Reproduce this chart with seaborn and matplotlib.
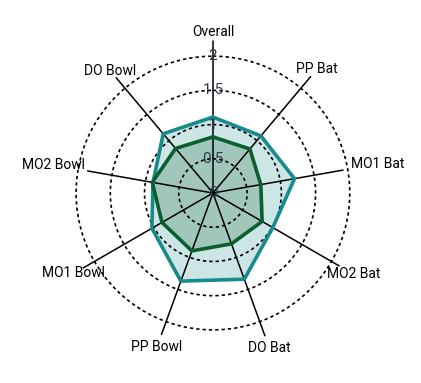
import numpy as np
import pandas as pd
import matplotlib
matplotlib.use("Agg")
import matplotlib.pyplot as plt
import seaborn as sns

categories = ["Overall", "PP Bat", "MO1 Bat", "MO2 Bat", "DO Bat",
              "PP Bowl", "MO1 Bowl", "MO2 Bowl", "DO Bowl"]
teal_values = [1.11, 1.09, 1.21, 1.01, 1.34, 1.37, 1.03, 0.89, 1.13]
green_values = [0.82, 0.84, 0.71, 0.83, 0.79, 0.90, 0.86, 0.90, 0.85]
radial_ticks = [0, 0.5, 1, 1.5, 2]
radial_tick_labels = ["0", "0.5", "1", "1.5", "2"]

sns.set_style("white")
plt.rcParams["font.family"] = ["Roboto", "DejaVu Sans"]

TEAL = "#178a8a"
GREEN = "#0b5e2e"

n = len(categories)
angles = np.linspace(0, 2 * np.pi, n, endpoint=False)

fig = plt.figure(figsize=(4.21, 3.83), dpi=100)
ax = fig.add_axes([0.140, 0.094, 0.7316, 0.804], projection="polar")
ax.set_theta_zero_location("N")
ax.set_theta_direction(-1)
rmax = 2.25
ax.set_ylim(0, rmax)
ax.grid(False)
ax.spines["polar"].set_visible(False)
ax.set_xticks([])
ax.set_yticks([])
ax.patch.set_alpha(0)

# dotted circles
circ_t = np.linspace(0, 2 * np.pi, 400)
for rt in radial_ticks[1:]:
    ax.plot(circ_t, np.full_like(circ_t, rt), color="black", lw=1.2,
            linestyle=(0, (2, 1.8)), zorder=3)

# spokes
spoke_len = [2.22, 2.22, 1.93, 2.13, 2.22, 2.2, 2.19, 1.86, 2.2]
for a, L in zip(angles, spoke_len):
    ax.plot([a, a], [0, L], color="black", lw=1.1, zorder=4, clip_on=False)

def closed(vals):
    return pd.DataFrame({"theta": np.append(angles, angles[0]),
                         "r": np.append(vals, vals[0])})

for vals, col in [(teal_values, TEAL), (green_values, GREEN)]:
    df = closed(vals)
    ax.fill(df["theta"], df["r"], color=col, alpha=0.22, lw=0, zorder=2)
    sns.lineplot(data=df, x="theta", y="r", sort=False, ax=ax, color=col,
                 lw=2.6, zorder=5, estimator=None)

ax.set_xlabel("")
ax.set_ylabel("")
ax.set_ylim(0, rmax)

# radial tick labels
for rt, lab in zip(radial_ticks, radial_tick_labels):
    ax.text(0, rt, lab, ha="center", va="center", fontsize=11,
            color="#2a3a4a", zorder=6)

# category labels
label_r = [2.36, 2.36, 2.44, 2.38, 2.41, 2.40, 2.35, 2.36, 2.33]
for a, lab, lr in zip(angles, categories, label_r):
    ax.text(a, lr, lab, ha="center", va="center", fontsize=10,
            color="black", clip_on=False, zorder=6)

fig.savefig("out.png", dpi=100)
